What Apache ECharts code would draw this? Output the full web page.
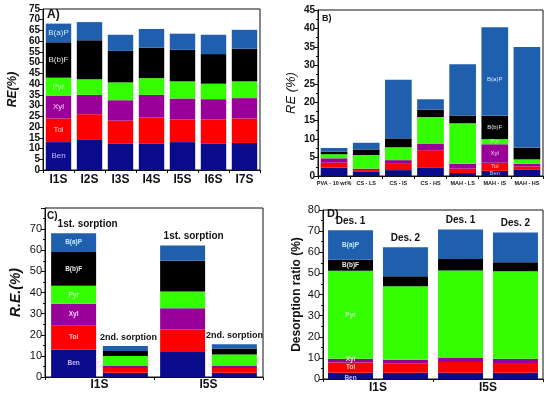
<!DOCTYPE html>
<html><head><meta charset="utf-8">
<script src="https://cdn.jsdelivr.net/npm/echarts@6/dist/echarts.min.js"></script>
<style>html,body{margin:0;padding:0;background:#fff}#c{width:550px;height:395px}</style>
</head><body><div id="c"></div>
<script>
// ---------- DATA ----------
const compNames = ['Ben','Tol','Xyl','Pyr','B(b)F','B(a)P'];

// Panel A
const catsA = ['I1S','I2S','I3S','I4S','I5S','I6S','I7S'];
const benA = [13, 14, 12.4, 12.4, 13, 12.4, 12.6];
const tolA = [11, 12, 10.6, 12.1, 10.5, 11.1, 11.4];
const xylA = [10.5, 9, 9.5, 10.5, 9.8, 9.5, 9.5];
const pyrA = [8.5, 7.3, 8.3, 7.8, 8, 7.2, 7.8];
const bbfA = [16.5, 18.1, 14.7, 14.2, 14.7, 13.8, 15.2];
const bapA = [8.7, 8.5, 7.5, 8.7, 7.5, 9, 8.8];

// Panel B
const catsB = ['PVA - 10 wt%','CS - LS','CS - IS','CS - HS','MAH - LS','MAH - IS','MAH - HS'];
const benB = [2.3, 1.1, 1.6, 2.2, 0.8, 1.4, 1.8];
const tolB = [1.3, 0.5, 1.7, 4.8, 1.2, 2.2, 0.8];
const xylB = [1.2, 0.4, 1.0, 1.8, 1.3, 5.0, 0.7];
const pyrB = [1.1, 3.7, 3.5, 7.2, 11.0, 1.4, 1.2];
const bbfB = [0.7, 1.5, 2.4, 2.0, 2.1, 6.3, 3.2];
const bapB = [1.0, 1.8, 15.9, 2.8, 13.9, 24.0, 27.3];

// Panel C (first / second sorption)
const catsC = ['I1S','I5S'];
const ben1C = [13, 12.2],  ben2C = [2.0, 2.0];
const tol1C = [11.3, 10.3], tol2C = [2.3, 2.3];
const xyl1C = [10.4, 10],  xyl2C = [0.9, 1.2];
const pyr1C = [8.5, 8],    pyr2C = [4.8, 5.2];
const bbf1C = [16, 14.5],  bbf2C = [2.3, 2.8];
const bap1C = [8.9, 7.3],  bap2C = [2.4, 2.0];
const titlesC1 = ['1st. sorption','1st. sorption'];
const titlesC2 = ['2nd. sorption','2nd. sorption'];

// Panel D (Des. 1 / Des. 2)
const catsD = ['I1S','I5S'];
const ben1D = [3.0, 3.0],  ben2D = [3.0, 3.0];
const tol1D = [4.8, 5.0],  tol2D = [4.5, 4.6];
const xyl1D = [1.8, 2.0],  xyl2D = [1.6, 2.0];
const pyr1D = [41.6, 41.4], pyr2D = [34.8, 41.4];
const bbf1D = [5.3, 5.4],  bbf2D = [4.7, 4.3];
const bap1D = [13.9, 14.0], bap2D = [13.8, 14.0];
const titlesD1 = ['Des. 1','Des. 1'];
const titlesD2 = ['Des. 2','Des. 2'];

const ticksA = {min:0, max:75, interval:5};
const ticksB = {min:0, max:45, interval:5};
const ticksC = {min:0, max:80, interval:10};
const ticksD = {min:0, max:80, interval:10};

// ---------- STYLE ----------
const compColors = ['#0a0a8c','#ff0000','#990099','#33ff00','#000000','#1f5fae'];
const labelColors = ['#c8b8ff','#ffc8c8','#ffd0ff','#b8ffb8','#e8e8e8','#c8ecff'];
const FONT = 'Liberation Sans, Arial, sans-serif';

function stackSeries(gi, stackName, arrays, labelIdx, lab, bar) {
  return arrays.map((arr, k) => Object.assign({
    type: 'bar', name: compNames[k] + '_' + stackName, stack: stackName,
    xAxisIndex: gi, yAxisIndex: gi,
    itemStyle: {color: compColors[k]},
    label: {show: false, position: 'inside', formatter: compNames[k], color: labelColors[k],
            fontSize: lab.size, fontWeight: lab.weight, fontFamily: FONT,
            offset: (lab.offsets && lab.offsets[k]) || [0,0]},
    data: arr.map((v, i) => i === labelIdx ? {value: v, label: {show: true}} : v),
    silent: true
  }, bar));
}
function carrier(gi, stackName, titles, offsets, size, bar) {
  return Object.assign({
    type: 'bar', name: 'title_' + stackName, stack: stackName, xAxisIndex: gi, yAxisIndex: gi,
    itemStyle: {color: 'rgba(0,0,0,0)'},
    data: titles.map((t, i) => ({value: 0, label: {show: true, position: 'top', formatter: t,
      offset: offsets[i], fontSize: size, fontWeight: 'bold', color: '#111', fontFamily: FONT}})),
    silent: true
  }, bar);
}

const gridsPx = [
  {left: 43, top: 9, width: 217, height: 161},
  {left: 318, top: 10, width: 225, height: 166},
  {left: 45, top: 208, width: 218, height: 169},
  {left: 323, top: 210, width: 220, height: 169}
];

function yAx(gi, t, lblBold, lblSize, name, nameStyle, nameGap, minor, hideMax) {
  return {
    type: 'value', gridIndex: gi, min: t.min, max: t.max, interval: t.interval,
    axisLine: {show: true, lineStyle: {color: '#111', width: 1}},
    axisTick: {show: true, inside: false, length: 4, lineStyle: {color: '#111'}},
    minorTick: {show: minor, splitNumber: 2, length: 2, lineStyle: {color: '#111'}},
    splitLine: {show: false},
    axisLabel: {color: '#111', fontSize: lblSize, fontWeight: lblBold ? 'bold' : 'normal',
      fontFamily: FONT, margin: 3, showMaxLabel: !hideMax},
    name: name, nameLocation: 'middle', nameGap: nameGap,
    nameTextStyle: Object.assign({color: '#111', fontFamily: FONT}, nameStyle)
  };
}
function xAx(gi, cats, size, margin) {
  return {
    type: 'category', gridIndex: gi, data: cats,
    axisLine: {show: true, lineStyle: {color: '#111', width: 1}},
    axisTick: {show: true, length: 3, lineStyle: {color: '#111'}},
    axisLabel: {color: '#111', fontSize: size, fontWeight: 'bold', fontFamily: FONT,
      margin: margin, interval: 0, hideOverlap: false}
  };
}

const barA = {barWidth: '82%'};
const barB = {barWidth: '83%'};
const barC = {barWidth: 45, barGap: '15%'};
const barD = {barWidth: 45, barGap: '22%'};

const series = [].concat(
  stackSeries(0, 'A', [benA, tolA, xylA, pyrA, bbfA, bapA], 0, {size: 8, weight: 'normal'}, barA),
  stackSeries(1, 'B', [benB, tolB, xylB, pyrB, bbfB, bapB], 5,
    {size: 6, weight: 'normal', offsets: [[0,0],[0,0],[0,0],[0,0],[0,0],[0,8]]}, barB),
  stackSeries(2, 'C1', [ben1C, tol1C, xyl1C, pyr1C, bbf1C, bap1C], 0, {size: 6.5, weight: 'bold'}, barC),
  carrier(2, 'C1', titlesC1, [[14,1],[11,1]], 10, barC),
  stackSeries(2, 'C2', [ben2C, tol2C, xyl2C, pyr2C, bbf2C, bap2C], -1, {size: 6.5, weight: 'bold'}, barC),
  carrier(2, 'C2', titlesC2, [[3,1],[0,1]], 9, barC),
  stackSeries(3, 'D1', [ben1D, tol1D, xyl1D, pyr1D, bbf1D, bap1D], 0,
    {size: 6.5, weight: 'bold', offsets: [[0,2],[0,0],[0,-1],[0,0],[0,0],[0,0]]}, barD),
  carrier(3, 'D1', titlesD1, [[0,1],[0,1]], 10, barD),
  stackSeries(3, 'D2', [ben2D, tol2D, xyl2D, pyr2D, bbf2D, bap2D], -1, {size: 6.5, weight: 'bold'}, barD),
  carrier(3, 'D2', titlesD2, [[0,1],[0,1]], 10, barD)
);

const chart = echarts.init(document.getElementById('c'), null, {renderer: 'canvas'});
chart.setOption({
  backgroundColor: '#fff',
  animation: false,
  grid: gridsPx.map(g => Object.assign({show: true, borderColor: '#111', borderWidth: 1,
    backgroundColor: 'rgba(0,0,0,0)', outerBoundsMode: 'none', containLabel: false}, g)),
  xAxis: [xAx(0, catsA, 12, 4), xAx(1, catsB, 5.5, 4), xAx(2, catsC, 12, 2), xAx(3, catsD, 12, 3)],
  yAxis: [
    yAx(0, ticksA, true, 10, 'RE(%)', {fontSize: 12, fontWeight: 'bold', fontStyle: 'italic'}, 24, false, false),
    yAx(1, ticksB, true, 10, 'RE (%)', {fontSize: 13, fontWeight: 'normal', fontStyle: 'italic'}, 20, true, false),
    yAx(2, ticksC, false, 11, 'R.E.(%)', {fontSize: 14, fontWeight: 'bold', fontStyle: 'italic'}, 22, true, true),
    yAx(3, ticksD, false, 11, 'Desorption ratio (%)', {fontSize: 12, fontWeight: 'bold'}, 20, true, false)
  ],
  graphic: [
    {type: 'text', left: 47, top: 9, style: {text: 'A)', font: 'bold 12px ' + FONT, fill: '#111'}},
    {type: 'text', left: 322, top: 14, style: {text: 'B)', font: 'bold 9px ' + FONT, fill: '#111'}},
    {type: 'text', left: 47, top: 211, style: {text: 'C)', font: 'bold 10px ' + FONT, fill: '#111'}},
    {type: 'text', left: 327, top: 208, style: {text: 'D)', font: 'bold 11px ' + FONT, fill: '#111'}}
  ],
  series: series
});
</script>
</body></html>
